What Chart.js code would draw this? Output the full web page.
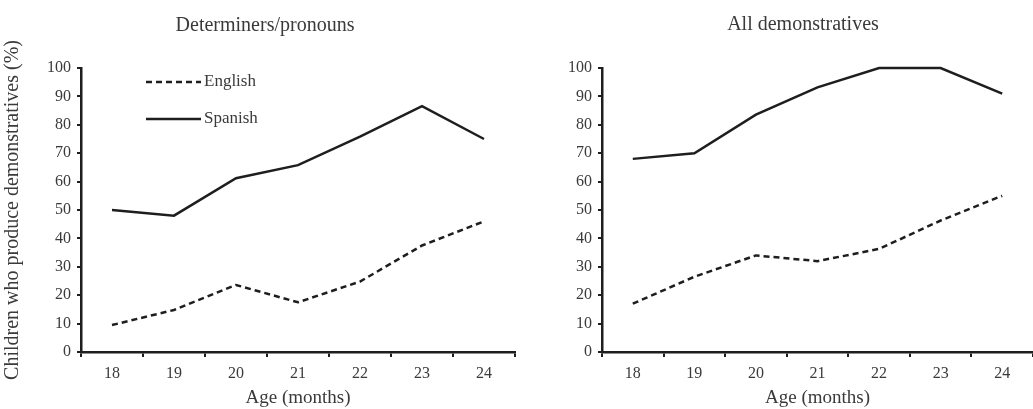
<!DOCTYPE html>
<html>
<head>
<meta charset="utf-8">
<script src="https://cdn.jsdelivr.net/npm/chart.js@4/dist/chart.umd.min.js"></script>
<style>
    body { margin: 0; background: #fff; }
    .panel { position: absolute; top: 0; height: 409px; }
    #left { left: 0; width: 520px; }
    #right { left: 520px; width: 513px; }
</style>
</head>
<body>
<div class="panel" id="left"><canvas id="detChart"></canvas></div>
<div class="panel" id="right"><canvas id="allChart"></canvas></div>
<script>
const ages = ["18", "19", "20", "21", "22", "23", "24"];
const yTicks = [0, 10, 20, 30, 40, 50, 60, 70, 80, 90, 100];

// Determiners/pronouns, % of children
const detEnglish = [9.5, 14.8, 23.6, 17.5, 24.8, 37.5, 46];
const detSpanish = [50, 48, 61.2, 65.8, 75.8, 86.6, 75];

// All demonstratives, % of children
const allEnglish = [17, 26.5, 34, 32, 36.3, 46.3, 55];
const allSpanish = [68, 70, 83.6, 93.2, 100, 100, 91];

const ink = "#1e1e1e";
const textColor = "#3a3a3a";
const serif = "'Liberation Serif', 'Times New Roman', serif";

// panel heading, placed at a fixed x so it sits a bit left of the plot centre
const panelTitle = {
    id: "panelTitle",
    afterDraw(chart, args, opts) {
        const ctx = chart.ctx;
        ctx.save();
        ctx.fillStyle = textColor;
        ctx.font = "20px " + serif;
        ctx.textAlign = "center";
        ctx.textBaseline = "middle";
        ctx.fillText(opts.text, opts.x, opts.y);
        ctx.restore();
    }
};

// small legend drawn inside the plot area (left panel only)
const insideLegend = {
    id: "insideLegend",
    afterDatasetsDraw(chart, args, opts) {
        if (!opts.show) return;
        const ctx = chart.ctx;
        const area = chart.chartArea;
        let y = area.top + 14;
        ctx.save();
        chart.data.datasets.forEach(ds => {
            const x0 = area.left + 65;
            ctx.strokeStyle = ds.borderColor;
            ctx.lineWidth = ds.borderWidth;
            ctx.setLineDash(ds.borderDash || []);
            ctx.beginPath();
            ctx.moveTo(x0, y);
            ctx.lineTo(x0 + 55, y);
            ctx.stroke();
            ctx.setLineDash([]);
            ctx.fillStyle = textColor;
            ctx.font = "17px " + serif;
            ctx.textBaseline = "middle";
            ctx.fillText(ds.label, x0 + 58, y);
            y += 37;
        });
        ctx.restore();
    }
};

function makeChart(canvasId, title, english, spanish, opts) {
    return new Chart(document.getElementById(canvasId), {
        type: "line",
        data: {
            labels: ages,
            datasets: [{
                label: "English",
                data: english,
                borderColor: ink,
                borderWidth: 2.5,
                borderDash: [6, 4],
                pointRadius: 0,
                fill: false,
                clip: 5
            },
            {
                label: "Spanish",
                data: spanish,
                borderColor: ink,
                borderWidth: 2.5,
                pointRadius: 0,
                fill: false,
                clip: 5
            }]
        },
        options: {
            responsive: true,
            maintainAspectRatio: false,
            animation: false,
            layout: { padding: { left: 0, right: opts.rightPad, top: 68, bottom: 0 } },
            plugins: {
                legend: { display: false },
                tooltip: { enabled: false },
                title: { display: false },
                panelTitle: { text: title, x: opts.titleX, y: opts.titleY },
                insideLegend: { show: opts.legend }
            },
            scales: {
                x: {
                    offset: true,
                    afterFit(scale) { scale.height = 57; },
                    grid: {
                        offset: true,
                        drawOnChartArea: false,
                        drawTicks: true,
                        tickLength: 5,
                        color: ink,
                        lineWidth: 2
                    },
                    border: { display: true, color: ink, width: 2.5 },
                    ticks: {
                        color: textColor,
                        padding: 7,
                        font: { family: serif, size: 16 }
                    },
                    title: {
                        display: true,
                        text: "Age (months)",
                        color: textColor,
                        font: { family: serif, size: 19 },
                        padding: { top: 0, bottom: 0 }
                    }
                },
                y: {
                    min: 0,
                    max: 100,
                    afterFit(scale) { scale.width = opts.yWidth; },
                    afterBuildTicks(scale) { scale.ticks = yTicks.map(v => ({ value: v })); },
                    grid: {
                        drawOnChartArea: false,
                        drawTicks: true,
                        tickLength: 4,
                        color: ink,
                        lineWidth: 2
                    },
                    border: { display: true, color: ink, width: 2.5 },
                    ticks: {
                        color: textColor,
                        padding: 6,
                        font: { family: serif, size: 16 }
                    },
                    title: {
                        display: opts.yTitle,
                        text: "Children who produce demonstratives (%)",
                        color: textColor,
                        font: { family: serif, size: 20 },
                        padding: { top: 1, bottom: 0 }
                    }
                }
            }
        },
        plugins: [insideLegend, panelTitle]
    });
}

makeChart("detChart", "Determiners/pronouns", detEnglish, detSpanish,
    { rightPad: 5, yWidth: 81, yTitle: true, legend: true, titleX: 265, titleY: 26 });
makeChart("allChart", "All demonstratives", allEnglish, allSpanish,
    { rightPad: 0, yWidth: 82, yTitle: false, legend: false, titleX: 283, titleY: 25 });
</script>
</body>
</html>
